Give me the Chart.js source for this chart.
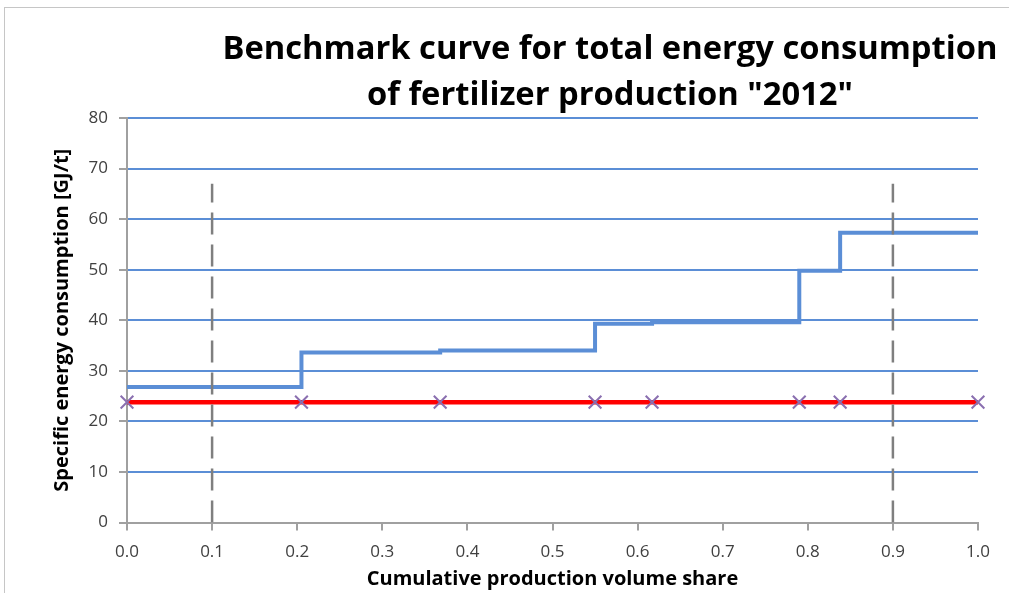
<!DOCTYPE html>
<html>
<head>
<meta charset="utf-8">
<script src="https://cdn.jsdelivr.net/npm/chart.js@4.4.0/dist/chart.umd.min.js"></script>
<style>
  html, body { margin: 0; padding: 0; background: #fff; }
  #wrap { position: relative; width: 1009px; height: 593px; overflow: hidden; }
  #frame { position: absolute; left: 4px; top: 7px; width: 1020px; height: 600px; border-top: 1px solid #c6c6c6; border-left: 1px solid #c6c6c6; }
  canvas { position: absolute; left: 0; top: 0; }
</style>
</head>
<body>
<div id="wrap">
  <div id="frame"></div>
  <canvas id="chart" width="1009" height="593"></canvas>
</div>
<script>
// chart text
const titleLines = ['Benchmark curve for total energy consumption', 'of fertilizer production "2012"'];
const xTitle = 'Cumulative production volume share';
const yTitle = 'Specific energy consumption [GJ/t]';

// benchmark curve: cumulative share where each plant starts, and its energy use
const shareBreaks = [0, 0.205, 0.368, 0.55, 0.617, 0.79, 0.838, 1.0];
const energyLevels = [26.8, 33.6, 34.0, 39.3, 39.6, 49.8, 57.3, 57.3];
// benchmark value (red line), marked at every break
const benchmarkValue = 23.8;
// 10% and 90% marks (dashed lines)
const quantileLines = [0.1, 0.9];
const quantileTop = 67;

const xMin = 0, xMax = 1, xStep = 0.1;
const yMin = 0, yMax = 80, yStep = 10;

const fontFam = "'Open Sans', sans-serif";
const blue = '#5b8ed6';
const axisGray = '#a0a0a0';

var curve = shareBreaks.map((s, i) => ({ x: s, y: energyLevels[i] }));
var bench = shareBreaks.map(s => ({ x: s, y: benchmarkValue }));

var datasets = [];
quantileLines.forEach(q => {
    datasets.push({
        data: [{ x: q, y: yMin }, { x: q, y: quantileTop }],
        showLine: true,
        borderColor: '#7f7f7f',
        borderWidth: 2.5,
        borderDash: [22, 10],
        pointRadius: 0
    });
});
datasets.push({
    data: bench,
    showLine: true,
    clip: false,
    borderColor: '#ff0000',
    borderWidth: 4.5,
    pointStyle: 'crossRot',
    pointRadius: 9,
    pointBorderColor: '#8a6fb0',
    pointBorderWidth: 2
});
datasets.push({
    data: curve,
    showLine: true,
    stepped: 'before',
    borderColor: blue,
    borderWidth: 4,
    pointRadius: 0
});

// title drawn narrow like the original (Calibri-like width)
const titlePlugin = {
    id: 'bigTitle',
    afterDraw(chart) {
        const ctx = chart.ctx;
        ctx.save();
        ctx.fillStyle = '#000';
        ctx.font = "bold 32px " + fontFam;
        ctx.textAlign = 'center';
        ctx.textBaseline = 'alphabetic';
        var sx = 775 / ctx.measureText(titleLines[0]).width;
        ctx.translate(610, 0);
        ctx.scale(sx, 1);
        ctx.fillText(titleLines[0], 0, 59);
        ctx.fillText(titleLines[1], 0, 105);
        ctx.restore();
    }
};

new Chart(document.getElementById('chart'), {
    type: 'scatter',
    data: { datasets: datasets },
    plugins: [titlePlugin],
    options: {
        responsive: false,
        animation: false,
        layout: { padding: { top: 118, right: 31, left: 43, bottom: 0 } },
        plugins: { legend: { display: false }, tooltip: { enabled: false } },
        scales: {
            x: {
                type: 'linear',
                min: xMin, max: xMax,
                afterFit: s => { s.height = 70.5; },
                ticks: {
                    stepSize: xStep,
                    padding: 11,
                    color: '#404040',
                    font: { family: fontFam, size: 17 },
                    callback: v => v.toFixed(1),
                    maxRotation: 0
                },
                grid: { color: 'rgba(0,0,0,0)', tickColor: axisGray, tickLength: 8, lineWidth: 2 },
                border: { color: axisGray, width: 2 },
                title: {
                    display: true, text: xTitle, color: '#000',
                    font: { family: fontFam, size: 20, weight: 'bold' },
                    padding: { top: 0, bottom: 2 }
                }
            },
            y: {
                min: yMin, max: yMax,
                afterFit: s => { s.width = 84; },
                ticks: {
                    stepSize: yStep,
                    padding: 11,
                    color: '#404040',
                    font: { family: fontFam, size: 17 }
                },
                grid: {
                    color: c => c.tick.value === 0 ? 'rgba(0,0,0,0)' : blue,
                    tickColor: axisGray, tickLength: 8, lineWidth: 2
                },
                border: { color: axisGray, width: 2 },
                title: {
                    display: true, text: yTitle, color: '#000',
                    font: { family: fontFam, size: 20, weight: 'bold' },
                    padding: { top: 7, bottom: 0 }
                }
            }
        }
    }
});
</script>
</body>
</html>
